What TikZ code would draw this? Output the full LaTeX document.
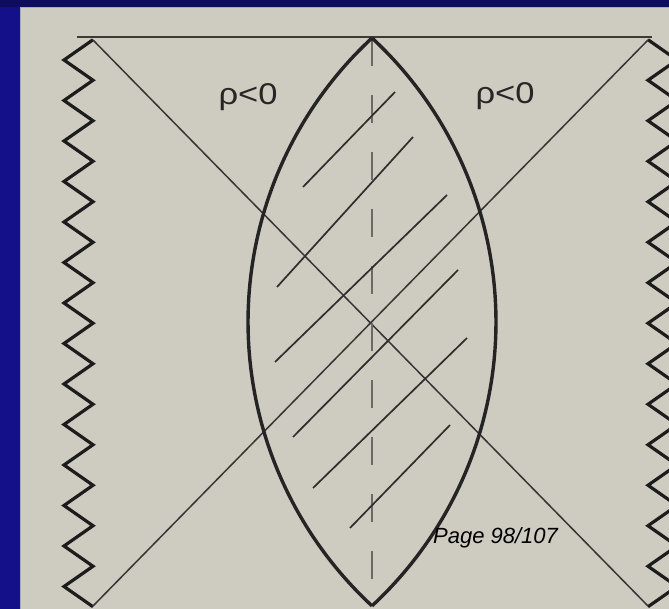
\documentclass[tikz,border=0pt]{standalone}
\usepackage{fontspec}
\setmainfont{Liberation Sans}
\definecolor{bluebg}{HTML}{13108A}
\definecolor{bluetop}{HTML}{0E0C5C}
\definecolor{panel}{HTML}{CECBC1}
\definecolor{paneledge}{HTML}{A9A7C6}
\definecolor{zigcol}{HTML}{1C1C1C}
\definecolor{lenscol}{HTML}{242424}
\definecolor{diagcol}{HTML}{353535}
\definecolor{hatchcol}{HTML}{2E2E2E}
\definecolor{topcol}{HTML}{3C3C34}
\definecolor{axiscol}{HTML}{6A6A66}
\begin{document}
\begin{tikzpicture}[x=1pt,y=-1pt,
  zig/.style={line width=3.2pt, draw=zigcol, line join=miter},
  lens/.style={line width=3.4pt, draw=lenscol},
  diag/.style={line width=1.5pt, draw=diagcol},
  hatch/.style={line width=1.7pt, draw=hatchcol},
  topline/.style={line width=2.6pt, draw=topcol},
  axisline/.style={line width=2pt, draw=axiscol, dash pattern=on 28pt off 29pt},
  lbl/.style={inner sep=0pt, anchor=base, xscale=1.15, font=\fontsize{30}{30}\selectfont, text=black!85},
  pagelbl/.style={inner sep=0pt, font=\fontsize{22}{22}\selectfont\itshape, text=black}]
\fill[bluebg] (0,0) rectangle (669,609);
\useasboundingbox (0,0) rectangle (669,609);
\fill[bluetop] (0,0) rectangle (669,7);
\fill[panel] (20,7) rectangle (669,609);
\draw[paneledge, line width=1.2pt] (20.6,609) -- (20.6,7.6) -- (669,7.6);
% named points
\coordinate (topA) at (77,37);
\coordinate (topB) at (652,37);
\coordinate (TL) at (93,40);
\coordinate (TR) at (648,40);
\coordinate (BL) at (93,606);
\coordinate (BR) at (648,606);
\coordinate (LT) at (372,38);
\coordinate (LB) at (372,606);
% top line
\draw[topline] (topA) -- (topB);
% singularities (zigzags)
\draw[zig] (93,39.75) \foreach \k in {0,...,13} { -- (64,{60+\k*40.5}) -- (93,{80.25+\k*40.5}) };
\draw[zig] (648,39.75) \foreach \k in {0,...,13} { -- (677,{60+\k*40.5}) -- (648,{80.25+\k*40.5}) };
% diagonals
\draw[diag] (TL) -- (BR);
\draw[diag] (TR) -- (BL);
% dashed axis
\draw[axisline] (LT) -- (LB);
% hatching
\coordinate (h1a) at (303,187); \coordinate (h1b) at (395,92);
\coordinate (h2a) at (277,287); \coordinate (h2b) at (413,137);
\coordinate (h3a) at (275,362); \coordinate (h3b) at (447,195);
\coordinate (h4a) at (293,437); \coordinate (h4b) at (458,270);
\coordinate (h5a) at (313,488); \coordinate (h5b) at (467,338);
\coordinate (h6a) at (350,528); \coordinate (h6b) at (450,425);
\draw[hatch] (h1a) -- (h1b);
\draw[hatch] (h2a) -- (h2b);
\draw[hatch] (h3a) -- (h3b);
\draw[hatch] (h4a) -- (h4b);
\draw[hatch] (h5a) -- (h5b);
\draw[hatch] (h6a) -- (h6b);
% lens
\draw[lens] (LT) arc[start angle=-132.83, end angle=-227.17, radius=387.2];
\draw[lens] (LT) arc[start angle=-47.17, end angle=47.17, radius=387.2];
% labels
\node[lbl] (rhoL) at (248,105) {ρ<0};
\node[lbl] (rhoR) at (505,104) {ρ<0};
\node[pagelbl, anchor=base west] (pg) at (433,543) {Page 98/107};
\end{tikzpicture}
\end{document}
